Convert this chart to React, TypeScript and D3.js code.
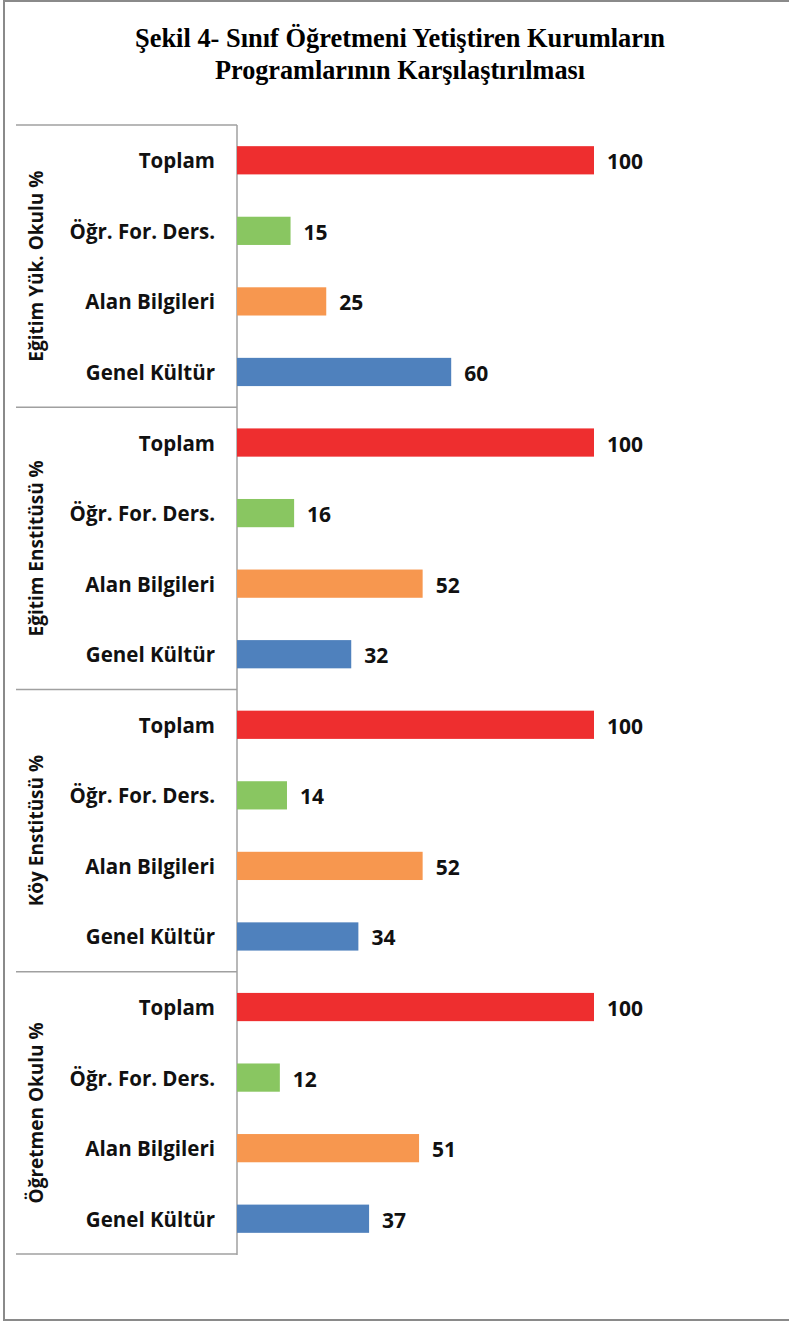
import React from "react";
import * as d3 from "d3";

const groups = [
  "Eğitim Yük. Okulu %",
  "Eğitim Enstitüsü %",
  "Köy Enstitüsü %",
  "Öğretmen Okulu %",
];
const categories = ["Toplam", "Öğr. For. Ders.", "Alan Bilgileri", "Genel Kültür"];
const egitimYuk = [100, 15, 25, 60];
const egitimEnst = [100, 16, 52, 32];
const koyEnst = [100, 14, 52, 34];
const ogretmenOk = [100, 12, 51, 37];
const seriesValues = [egitimYuk, egitimEnst, koyEnst, ogretmenOk];
const colors = ["#EE2E2F", "#89C661", "#F7974F", "#4F81BD"];

const W = 789;
const H = 1324;
const labelFont = "'Open Sans', Lato, sans-serif";

export default function App() {
  const y0 = d3.scaleBand<string>().domain(groups).range([125, 1254]);
  const y1 = d3
    .scaleBand<string>()
    .domain(categories)
    .range([0, y0.bandwidth()])
    .paddingInner(0.6)
    .paddingOuter(0.3);
  const x = d3.scaleLinear().domain([0, 100]).range([237, 594]);
  const color = d3.scaleOrdinal<string, string>().domain(categories).range(colors);

  return (
    <svg
      width={W}
      height={H}
      style={{ position: "absolute", left: 0, top: 0, background: "#fff" }}
    >
      {/* outer frame */}
      <rect x={4} y={1} width={W + 10} height={1319} fill="none" stroke="#8a8a8a" strokeWidth={2} />

      <text
        x={400}
        y={47}
        textAnchor="middle"
        fontFamily="'Liberation Serif', serif"
        fontWeight="bold"
        fontSize={27}
        textLength={530}
        lengthAdjust="spacingAndGlyphs"
      >
        Şekil 4- Sınıf Öğretmeni Yetiştiren Kurumların
      </text>
      <text
        x={400}
        y={79}
        textAnchor="middle"
        fontFamily="'Liberation Serif', serif"
        fontWeight="bold"
        fontSize={27}
        textLength={370}
        lengthAdjust="spacingAndGlyphs"
      >
        Programlarının Karşılaştırılması
      </text>

      {/* group separators */}
      {groups.concat([""]).map((g, i) => {
        const yy = i < groups.length ? y0(g)! : y0.range()[1];
        return <line key={"sep" + i} x1={16} x2={237} y1={yy} y2={yy} stroke="#a0a0a0" strokeWidth={1.5} />;
      })}
      <line x1={237} x2={237} y1={125} y2={1255} stroke="#a0a0a0" strokeWidth={1.5} />

      {groups.map((g, gi) => {
        const gy = y0(g)!;
        const cy = gy + y0.bandwidth() / 2;
        return (
          <g key={g}>
            <text
              transform={`translate(36,${cy}) rotate(-90)`}
              textAnchor="middle"
              dominantBaseline="central"
              fontFamily={labelFont}
              fontWeight="bold"
              fontSize={19}
              fill="#111"
            >
              {g}
            </text>
            {categories.map((c, ci) => {
              const v = seriesValues[gi][ci];
              const by = gy + y1(c)!;
              const mid = by + y1.bandwidth() / 2;
              return (
                <g key={c}>
                  <text
                    x={215}
                    y={mid}
                    textAnchor="end"
                    dominantBaseline="central"
                    fontFamily={labelFont}
                    fontWeight="bold"
                    fontSize={20.5}
                    fill="#111"
                  >
                    {c}
                  </text>
                  <rect x={x(0)} y={by} width={x(v) - x(0)} height={y1.bandwidth()} fill={color(c)} />
                  <text
                    x={x(v) + 13}
                    y={mid + 1}
                    dominantBaseline="central"
                    fontFamily={labelFont}
                    fontWeight="bold"
                    fontSize={21}
                    fill="#111"
                  >
                    {v}
                  </text>
                </g>
              );
            })}
          </g>
        );
      })}
    </svg>
  );
}
